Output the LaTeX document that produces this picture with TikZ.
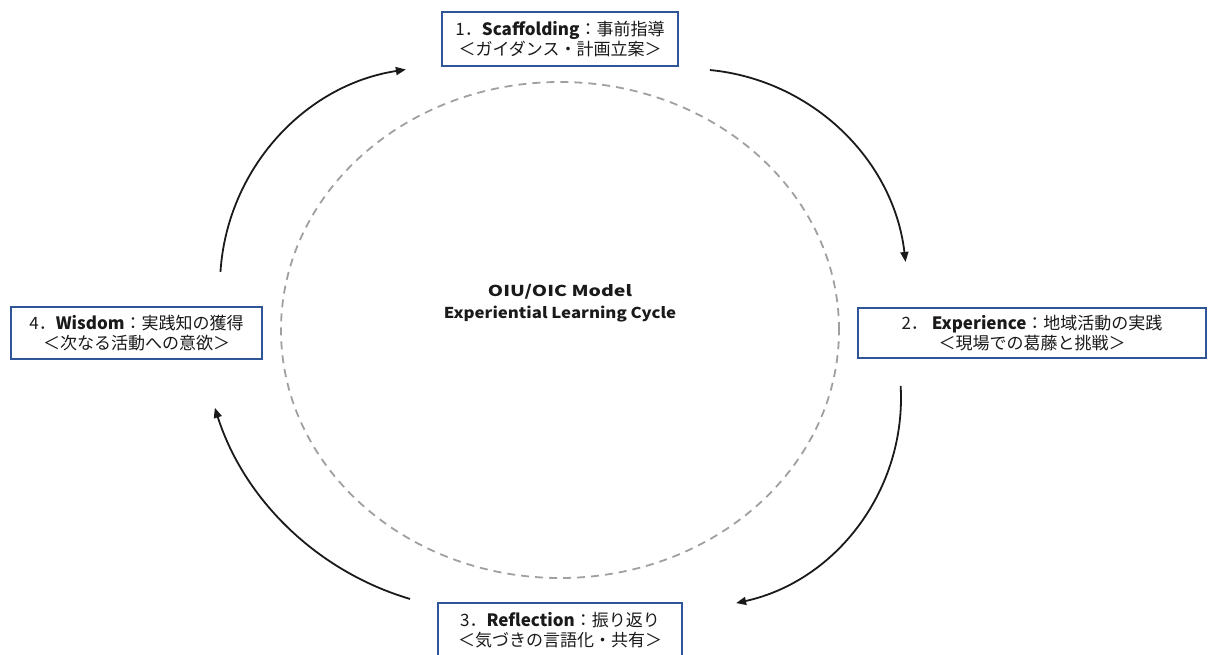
\documentclass[tikz,border=0pt]{standalone}
\usepackage{fontspec}
\setmainfont{Noto Sans CJK JP}
\usetikzlibrary{arrows.meta}
\definecolor{boxblue}{HTML}{2F5597}
\definecolor{dashgray}{HTML}{A0A0A0}
\definecolor{ink}{HTML}{1A1A1A}
\begin{document}
\begin{tikzpicture}[x=1pt,y=-1pt,
  stage/.style={draw=boxblue, line width=2pt, fill=white, align=center, inner sep=0pt,
    font=\fontsize{17}{20}\selectfont, text=ink},
  cyc/.style={line width=1.8pt, draw=ink, -{Triangle[length=10pt,width=8pt]}},
  ]
\useasboundingbox (0,0) rectangle (1208,655);
\coordinate (e) at (560,330);
\draw[dashgray, line width=1.8pt, dash pattern=on 8pt off 6pt] (e) ellipse [x radius=279pt, y radius=248pt];

\node[stage, minimum width=236pt, minimum height=54pt] (s1) at (560,39)
  {1．\textbf{Scaffolding}：事前指導\\＜ガイダンス・計画立案＞};
\node[stage, minimum width=348pt, minimum height=50pt] (s2) at (1032,333)
  {2．\ \textbf{Experience}：地域活動の実践\\＜現場での葛藤と挑戦＞};
\node[stage, minimum width=244pt, minimum height=54pt] (s3) at (560,630)
  {3．\textbf{Reflection}：振り返り\\＜気づきの言語化・共有＞};
\node[stage, minimum width=251pt, minimum height=52pt] (s4) at (136.5,333)
  {4．\textbf{Wisdom}：実践知の獲得\\＜次なる活動への意欲＞};

\node[align=center, font=\fontsize{15}{22}\selectfont\bfseries, text=ink] (title) at (560,303)
  {{\addfontfeature{FakeStretch=1.3}OIU/OIC Model}\\{\addfontfeature{FakeStretch=1.12}Experiential Learning Cycle}};

% arc centres
\coordinate (c1) at (689,287);
\coordinate (c2) at (691,398);
\coordinate (c3) at (493,319);
\coordinate (c4) at (439,286);
\coordinate (a1) at ([shift={(84.5:218pt)}]c1);
\coordinate (a2) at ([shift={(3.3:210pt)}]c2);
\coordinate (a3) at ([shift={(253.5:292pt)}]c3);
\coordinate (a4) at ([shift={(176.3:219pt)}]c4);
\draw[cyc] (a1) arc[start angle=84.5, end angle=6.6, radius=218pt];
\draw[cyc] (a2) arc[start angle=3.3, end angle=-77.6, radius=210pt];
\draw[cyc] (a3) arc[start angle=253.5, end angle=197.7, radius=292pt];
\draw[cyc] (a4) arc[start angle=176.3, end angle=98.7, radius=219pt];
\end{tikzpicture}
\end{document}
